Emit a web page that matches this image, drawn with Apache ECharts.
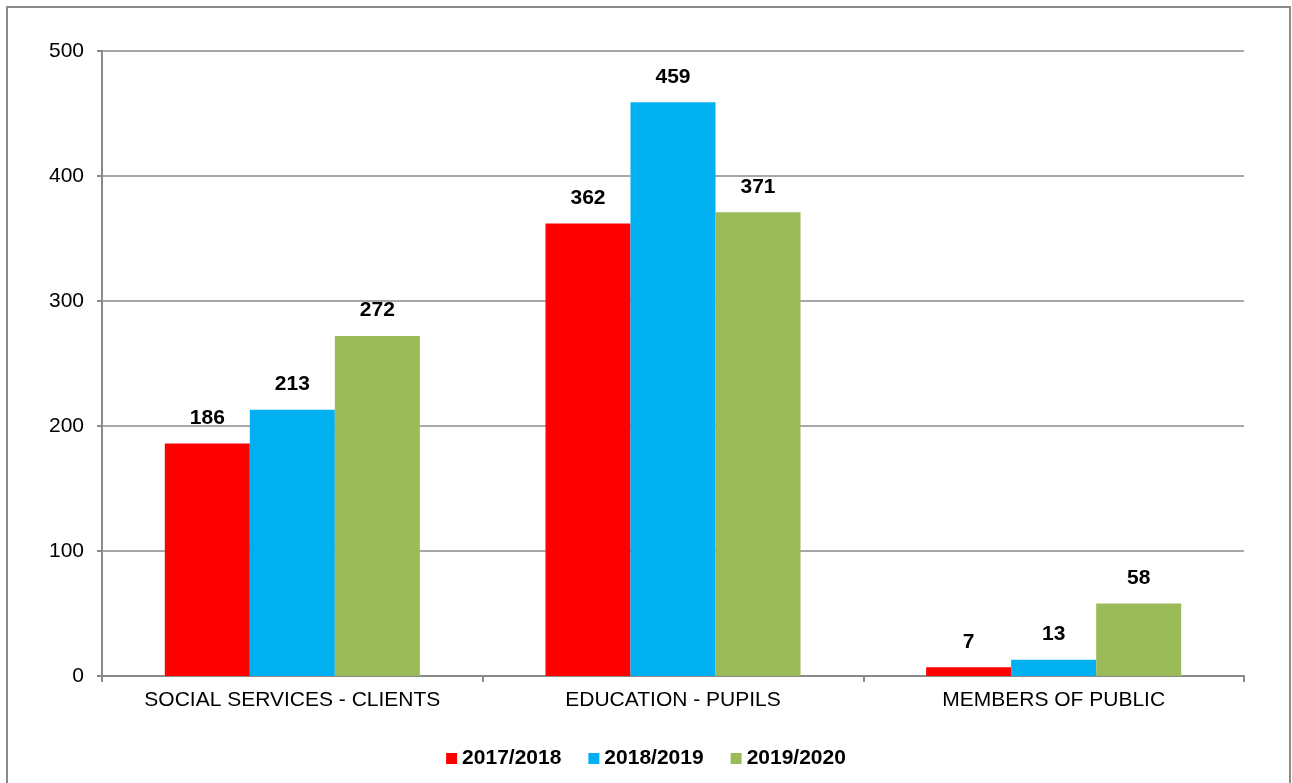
<!DOCTYPE html>
<html>
<head>
<meta charset="utf-8">
<script src="https://cdn.jsdelivr.net/npm/echarts@6/dist/echarts.min.js"></script>
<style>
  html, body { margin: 0; padding: 0; background: #fff; }
  #chart { width: 1292px; height: 783px; }
</style>
</head>
<body>
<div id="chart"></div>
<script>
var categories = ['SOCIAL SERVICES - CLIENTS', 'EDUCATION - PUPILS', 'MEMBERS OF PUBLIC'];
var seriesNames = ['2017/2018', '2018/2019', '2019/2020'];
var data2017 = [186, 362, 7];
var data2018 = [213, 459, 13];
var data2019 = [272, 371, 58];
var colors = ['#ff0000', '#00b0f0', '#9bbb59'];

var myChart = echarts.init(document.getElementById('chart'));

function makeSeries(name, data, color) {
  return {
    name: name,
    type: 'bar',
    data: data,
    barGap: '0%',
    barCategoryGap: '33%',
    itemStyle: { color: color },
    label: {
      show: true,
      position: 'top',
      distance: 15,
      color: '#000',
      fontSize: 21,
      fontWeight: 'bold',
      fontFamily: 'Liberation Sans, Arial, sans-serif'
    }
  };
}

var option = {
  animation: false,
  textStyle: { fontFamily: 'Liberation Sans, Arial, sans-serif' },
  graphic: [{
    type: 'rect',
    shape: { x: 7, y: 7, width: 1283, height: 800 },
    style: { fill: 'none', stroke: '#8a8a8a', lineWidth: 2 }
  }],
  grid: {
    left: 102,
    right: 48,
    top: 51,
    bottom: 107
  },
  legend: {
    bottom: 9,
    left: 'center',
    itemWidth: 11,
    itemHeight: 11,
    itemGap: 27,
    icon: 'rect',
    textStyle: {
      color: '#000',
      fontSize: 21,
      fontWeight: 'bold',
      padding: [0, 0, 0, 0]
    },
    data: seriesNames
  },
  xAxis: {
    type: 'category',
    data: categories,
    axisLine: { lineStyle: { color: '#8a8a8a', width: 2 } },
    axisTick: { show: true, interval: 0, length: 6, lineStyle: { color: '#8a8a8a', width: 2 } },
    axisLabel: { color: '#000', fontSize: 21, margin: 14, interval: 0 }
  },
  yAxis: {
    type: 'value',
    min: 0,
    max: 500,
    interval: 100,
    axisLine: { show: true, lineStyle: { color: '#8a8a8a', width: 2 } },
    axisTick: { show: true, length: 5, lineStyle: { color: '#8a8a8a', width: 2 } },
    axisLabel: { color: '#000', fontSize: 21, margin: 18 },
    splitLine: { lineStyle: { color: '#8a8a8a', width: 1.5 } }
  },
  series: [
    makeSeries(seriesNames[0], data2017, colors[0]),
    makeSeries(seriesNames[1], data2018, colors[1]),
    makeSeries(seriesNames[2], data2019, colors[2])
  ]
};

myChart.setOption(option);
</script>
</body>
</html>
